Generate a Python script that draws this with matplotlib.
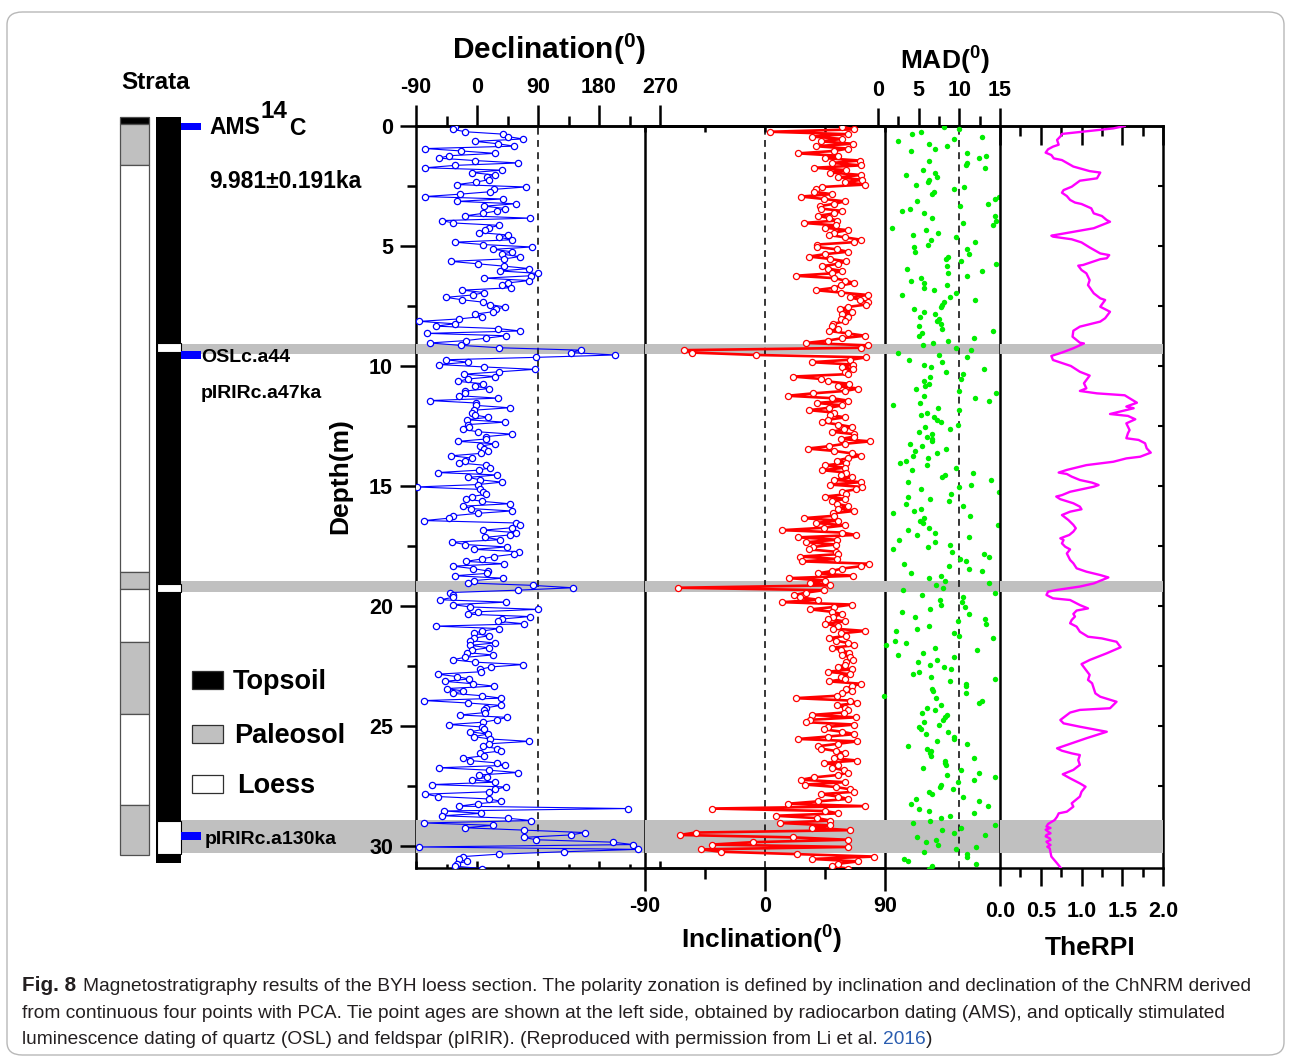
import numpy as np
import matplotlib
matplotlib.use('Agg')
import matplotlib.pyplot as plt
from matplotlib.patches import Rectangle, FancyBboxPatch
from matplotlib.ticker import FormatStrFormatter, NullFormatter

plt.rcParams['font.family'] = ['Liberation Sans', 'DejaVu Sans']
plt.rcParams['font.weight'] = 'bold'
plt.rcParams['mathtext.default'] = 'regular'
plt.rcParams['axes.unicode_minus'] = False

# ---------------------------------------------------------------- data
# ChNRM specimens, taken every 0.1 m from the top of the section
SAMPLE_TOP = 0.04
SAMPLE_STEP = 0.1

DECLINATION = [
    -32, -36, -17, 39, 45, 68, -3, 31, 55, -76,
    -23, 27, -42, -56, -3, 61, -32, -76, 37, -8,
    26, 15, 17, -2, -30, 72, 25, 19, -25, -77,
    38, -29, 57, 11, 42, 29, 9, -17, 78, -52,
    -35, 33, 18, 12, 3, 45, 33, 52, -33, 9,
    81, 24, 52, 37, 63, 40, -39, 1, 40, 77,
    34, 90, 79, 11, 77, 45, 37, 50, -22, 11,
    -6, -46, -22, 9, 19, 41, 28, 23, -3, 7,
    -27, -85, -33, -61, 31, 64, -74, 43, 14, -16,
    -70, -24, 33, 153, 138, 204, 87, -46, -14, -56,
    11, 85, 32, -19, 27, -13, -28, 9, -3, 18,
    -17, -18, -26, 31, -70, -2, -2, 48, -4, -7,
    -3, 16, -15, 41, -13, -12, -20, 1, 52, 14,
    14, -28, 27, 4, 11, 16, 6, -38, -7, -17,
    -26, 13, 19, 3, -58, 30, -13, 4, 37, 1,
    -89, 4, 9, 14, -8, -16, 8, 48, -20, -9,
    51, 1, -36, -41, -78, 57, 63, 52, 9, 57,
    48, 12, 34, -37, -17, 44, -4, 62, 54, 25,
    7, -16, 40, -36, -6, 16, 15, -33, 38, -4,
    -14, 82, 141, 61, -40, -36, -36, -54, 43, -36,
    -10, 90, 2, -14, 78, 37, 31, 70, -61, 33,
    8, -5, 18, -5, -10, 26, -10, 17, -8, -15,
    23, -18, -36, -3, 68, 20, 5, 6, -58, -30,
    -12, -47, -6, 25, -45, -20, -36, 8, 36, -78,
    -14, 35, 14, 10, 12, -25, 44, 30, 9, -41,
    7, 10, -10, 16, -5, 19, 77, 18, 9, 29,
    35, 5, 11, -20, -10, 30, 41, -56, 17, 60,
    3, 15, -8, 27, -66, 43, 26, 18, -76, -57,
    18, 36, 1, -27, 223, -49, 6, -51, 45, 80,
    -78, 24, -18, 70, 159, 138, 69, 87, 200, 230,
    -86, 237, 129, 32, -20, -26, -15, -30, -33, 7,
]

INCLINATION = [
    58, 67, 4, 62, 35, 58, 42, 66, 38, 62,
    52, 25, 55, 45, 71, 50, 72, 37, 61, 49,
    72, 55, 73, 60, 75, 43, 38, 37, 50, 27,
    44, 60, 52, 41, 42, 58, 52, 40, 48, 54,
    29, 53, 45, 62, 52, 48, 60, 72, 67, 39,
    39, 54, 62, 45, 33, 49, 61, 55, 43, 47,
    58, 50, 23, 52, 60, 67, 57, 52, 38, 57,
    77, 64, 71, 77, 76, 62, 56, 65, 58, 62,
    57, 60, 51, 50, 55, 48, 62, 75, 58, 47,
    31, 77, 72, -61, -55, -7, 76, 64, 35, 66,
    58, 66, 60, 62, 21, 42, 47, 63, 55, 70,
    60, 36, 17, 50, 62, 39, 58, 48, 33, 52,
    49, 60, 47, 43, 55, 65, 59, 50, 67, 67,
    57, 79, 60, 48, 32, 52, 65, 72, 62, 54,
    61, 45, 60, 43, 61, 57, 65, 52, 72, 49,
    73, 68, 58, 61, 45, 60, 50, 54, 62, 55,
    67, 51, 52, 29, 55, 38, 60, 44, 13, 58,
    68, 25, 54, 31, 53, 36, 33, 53, 55, 26,
    54, 28, 78, 72, 58, 50, 40, 66, 18, 45,
    34, 49, -65, 44, 31, 22, 26, 40, 13, 65,
    52, 34, 50, 58, 51, 47, 60, 45, 55, 51,
    75, 57, 61, 48, 53, 62, 67, 50, 57, 63,
    58, 64, 66, 61, 60, 55, 65, 47, 64, 57,
    60, 48, 72, 65, 61, 65, 58, 54, 23, 64,
    69, 54, 60, 62, 59, 35, 68, 34, 31, 67,
    47, 44, 58, 67, 47, 25, 69, 55, 40, 42,
    53, 60, 56, 52, 69, 44, 55, 50, 59, 62,
    55, 37, 27, 60, 30, 53, 64, 67, 42, 55,
    62, 40, 17, 75, -40, 45, 55, 8, 39, 49,
    11, 49, 35, 64, -52, -64, 21, 62, -9, -40,
    62, -48, -33, 24, 82, 35, 70, 55, 50, 62,
]

MAD = [
    8.1, 10.0, 5.3, 4.2, 12.8, 9.4, 2.5, 6.3, 8.5, 7.0,
    4.0, 10.9, 13.3, 12.4, 6.3, 11.0, 10.8, 13.2, 5.5, 7.0,
    3.4, 7.3, 6.3, 6.2, 4.7, 10.6, 9.4, 6.9, 6.7, 14.9,
    14.4, 4.8, 13.5, 10.1, 3.9, 3.0, 5.7, 14.4, 6.6, 14.5,
    10.5, 14.1, 1.7, 5.9, 7.4, 4.3, 9.6, 6.5, 11.9, 6.1,
    4.4, 11.0, 4.6, 11.2, 8.6, 8.3, 10.2, 14.5, 8.5, 3.6,
    12.8, 8.6, 10.9, 5.3, 4.1, 5.6, 8.5, 5.6, 6.9, 9.6,
    3.0, 8.9, 11.9, 8.1, 7.9, 7.8, 4.4, 5.6, 7.0, 5.2,
    7.5, 7.2, 7.8, 5.1, 7.9, 14.1, 5.4, 5.1, 11.8, 8.6,
    6.8, 5.5, 9.6, 11.4, 2.5, 7.5, 10.9, 3.8, 7.9, 5.6,
    6.5, 13.0, 8.3, 10.5, 6.4, 10.2, 5.6, 6.3, 5.8, 4.7,
    10.0, 14.5, 5.6, 11.9, 13.7, 5.2, 1.8, 7.4, 10.0, 6.0,
    5.3, 6.9, 7.3, 7.8, 9.8, 5.8, 8.9, 5.0, 6.7, 6.0,
    6.7, 6.6, 3.9, 5.4, 8.3, 4.6, 7.2, 4.3, 6.1, 3.4,
    2.7, 6.0, 9.6, 4.2, 11.7, 8.2,
    7.9, 13.9, 3.7, 11.4, 10.0, 5.3, 14.9, 9.0, 3.7, 6.4,
    8.7, 3.4, 10.5, 5.3, 4.4, 1.8, 11.3, 5.6, 5.2, 5.5,
    14.7, 6.3, 3.7, 7.0, 4.8, 11.2, 2.6, 7.0, 8.9, 6.1,
    1.8, 9.1, 13.0, 13.7, 10.1, 10.8, 3.2, 8.7, 11.2, 12.8,
    4.0, 7.8, 6.3, 8.2, 13.7, 7.1, 8.0, 3.1, 14.4, 5.4,
    10.4, 7.6, 10.3, 7.7, 10.7, 6.4, 3.0, 11.2, 4.6, 13.2,
    9.8, 13.3, 6.3, 4.8, 2.2, 9.3, 10.0, 14.1, 2.1, 3.4,
    1.0, 7.0, 12.2, 5.5, 2.4, 9.4, 7.3, 4.9, 6.4,
    8.1, 9.0, 5.0, 4.3, 6.5, 14.4, 8.8, 10.8, 10.8, 6.6,
    6.8, 10.8, 0.7, 7.1, 12.8, 12.4, 7.7, 6.0, 7.0, 5.4,
    8.5, 8.2, 8.0, 5.7, 7.5, 5.0, 5.3, 8.6, 5.9, 9.4,
    9.3, 7.3, 11.0, 3.7, 6.0, 6.5, 6.4, 6.5, 11.8, 8.2,
    8.2, 8.3, 5.5, 10.2, 12.4, 8.5, 14.4, 11.8, 9.8, 7.7,
    7.6, 9.2, 6.3, 6.6, 10.5, 4.7, 12.4, 4.0, 13.5, 5.0,
    6.3, 11.8, 8.8, 7.7, 6.4, 4.3, 14.4, 10.2, 7.9, 9.4,
    13.2, 4.8, 7.1, 5.9, 7.4, 12.1, 9.6, 5.6, 11.0, 10.9,
    3.2, 3.7, 12.1, 6.6, 6.3,
]

RPI_DEPTH = [
    0.0, 0.1, 0.33, 0.44, 0.58, 0.78, 0.86, 0.97, 1.11, 1.21,
    1.35, 1.42, 1.69, 1.88, 1.94, 2.18, 2.28, 2.53, 2.67, 2.78,
    2.92, 3.08, 3.19, 3.25, 3.43, 3.64, 3.75, 3.92, 3.99, 4.26,
    4.36, 4.57, 4.61, 4.72, 4.85, 5.06, 5.31, 5.38, 5.51, 5.55,
    5.79, 5.82, 6.0, 6.14, 6.42, 6.63, 6.97, 7.18, 7.25, 7.53,
    7.74, 8.01, 8.15, 8.36, 8.53, 8.78, 9.03, 9.06, 9.26, 9.44,
    9.58, 9.75, 10.0, 10.24, 10.4, 10.58, 10.72, 10.93, 11.04, 11.14,
    11.22, 11.53, 11.69, 11.76, 12.0, 12.08, 12.22, 12.39, 12.67, 12.8,
    13.01, 13.08, 13.22, 13.43, 13.61, 13.78, 13.85, 13.99, 14.13, 14.33,
    14.44, 14.5, 14.61, 14.75, 14.86, 14.96, 15.03, 15.24, 15.38, 15.44,
    15.55, 15.72, 15.86, 15.97, 16.07, 16.21, 16.42, 16.62, 16.76, 16.9,
    17.04, 17.18, 17.25, 17.39, 17.53, 17.64, 17.81, 18.08, 18.22, 18.43,
    18.57, 18.71, 18.81, 19.06, 19.19, 19.33, 19.4, 19.54, 19.68, 19.75,
    19.96, 20.1, 20.19, 20.33, 20.44, 20.58, 20.72, 20.86, 21.07, 21.28,
    21.35, 21.49, 21.72, 21.97, 22.25, 22.42, 22.6, 22.87, 23.08, 23.22,
    23.43, 23.64, 23.78, 23.99, 24.26, 24.33, 24.44, 24.75, 24.89, 25.03,
    25.24, 25.51, 25.79, 25.93, 26.03, 26.14, 26.21, 26.42, 26.62, 26.83,
    27.01, 27.18, 27.39, 27.53, 27.74, 27.94, 28.22, 28.36, 28.57, 28.64,
    28.78, 28.92, 29.08, 29.19, 29.25, 29.32, 29.4, 29.47, 29.54, 29.6,
    29.68, 29.75, 29.82, 29.89, 29.96, 30.03, 30.1, 30.44, 30.72, 30.93,
]
RPI = [
    1.53, 1.39, 0.76, 0.74, 0.70, 0.72, 0.65, 0.59, 0.56, 0.63,
    0.66, 0.76, 0.90, 1.10, 1.23, 1.19, 0.98, 0.88, 0.78, 0.76,
    0.82, 0.86, 0.92, 1.00, 1.12, 1.15, 1.25, 1.31, 1.35, 1.15,
    0.98, 0.63, 0.65, 0.88, 1.00, 1.10, 1.23, 1.34, 1.31, 1.23,
    1.02, 0.96, 1.00, 1.06, 1.10, 1.08, 1.15, 1.23, 1.29, 1.23,
    1.35, 1.29, 1.23, 0.98, 0.90, 0.89, 0.98, 1.03, 0.90, 0.76,
    0.63, 0.65, 0.87, 0.98, 1.10, 1.06, 1.03, 1.06, 0.98, 1.19,
    1.53, 1.68, 1.55, 1.64, 1.35, 1.57, 1.66, 1.55, 1.59, 1.57,
    1.55, 1.70, 1.78, 1.80, 1.85, 1.72, 1.55, 1.39, 1.06, 0.82,
    0.72, 0.82, 0.88, 0.98, 1.13, 1.21, 1.15, 0.86, 0.76, 0.69,
    0.74, 0.90, 0.98, 1.00, 0.86, 0.76, 0.84, 0.90, 0.93, 0.90,
    0.85, 0.74, 0.78, 0.76, 0.80, 0.86, 0.82, 0.86, 0.90, 0.94,
    1.06, 1.23, 1.33, 1.15, 0.98, 0.70, 0.59, 0.57, 0.65, 0.86,
    0.98, 1.08, 0.94, 0.90, 0.92, 0.88, 0.86, 0.94, 0.98, 1.08,
    1.25, 1.43, 1.48, 1.31, 1.10, 1.00, 1.04, 1.10, 1.08, 1.13,
    1.15, 1.17, 1.23, 1.43, 1.35, 0.98, 0.86, 0.74, 0.78, 0.98,
    1.31, 1.06, 0.82, 0.70, 0.76, 0.88, 0.98, 0.96, 0.98, 0.90,
    0.77, 0.86, 0.98, 1.05, 1.00, 0.98, 0.88, 0.90, 0.82, 0.72,
    0.70, 0.67, 0.59, 0.57, 0.62, 0.56, 0.59, 0.62, 0.57, 0.56,
    0.61, 0.62, 0.57, 0.59, 0.62, 0.58, 0.61, 0.63, 0.70, 0.75,
]

# strata column: (top, base, unit)
LITHOLOGY = [
    (-0.38, -0.08, 'Topsoil'),
    (-0.08, 1.63, 'Paleosol'),
    (1.63, 18.6, 'Loess'),
    (18.6, 19.3, 'Paleosol'),
    (19.3, 21.5, 'Loess'),
    (21.5, 24.5, 'Paleosol'),
    (24.5, 28.3, 'Loess'),
    (28.3, 30.38, 'Paleosol'),
]
POLARITY_TOP, POLARITY_BASE = -0.38, 30.7
REVERSED_ZONES = [(9.05, 9.42), (19.1, 19.42), (28.95, 30.32)]
EXCURSION_BANDS = [(9.08, 9.5), (18.96, 19.4), (28.9, 30.3)]
TIE_POINT_DEPTHS = [0.02, 9.55, 29.58]

LITH_COLORS = {'Topsoil': 'black', 'Paleosol': '#c0c0c0', 'Loess': 'white'}
BAND_GREY = '#c0c0c0'
LW = 1.8

depth = SAMPLE_TOP + SAMPLE_STEP * np.arange(len(DECLINATION))

# ---------------------------------------------------------------- layout
W, H = 1290, 1058
Y_TOP, Y_BOT = 126, 868
DEPTH_MAX = (Y_BOT - Y_TOP) / 24.0

fig = plt.figure(figsize=(W / 100, H / 100), dpi=100)


def panel(x0, x1):
    ax = fig.add_axes([x0 / W, 1 - Y_BOT / H, (x1 - x0) / W, (Y_BOT - Y_TOP) / H])
    ax.set_facecolor('none')
    ax.set_ylim(DEPTH_MAX, 0)
    for s in ax.spines.values():
        s.set_linewidth(LW)
    return ax


def shade(ax, z=2.6):
    for top, base in EXCURSION_BANDS:
        ax.axhspan(top, base, color=BAND_GREY, lw=0, zorder=z)


def dashed(ax, x):
    ax.axvline(x, color='black', lw=1.1, ls=(0, (4.5, 3.5)), zorder=2.8)


def txt(x, y, s, size, ha='left', va='baseline', **kw):
    kw.setdefault('fontweight', 'bold')
    return fig.text(x / W, 1 - y / H, s, fontsize=size, ha=ha, va=va, **kw)


# grey bands behind the tie-point labels
ax_bg = panel(181, 416)
ax_bg.axis('off')
shade(ax_bg, 0)

# strata and polarity columns
ax_st = panel(119, 201)
ax_st.axis('off')
ax_st.set_xlim(0, 82)
for top, base, unit in LITHOLOGY:
    ax_st.bar(15.25, base - top, bottom=top, width=29.5, color=LITH_COLORS[unit],
              edgecolor='#505050', linewidth=0.9, clip_on=False)
ax_st.bar(49.5, POLARITY_BASE - POLARITY_TOP, bottom=POLARITY_TOP, width=25,
          color='black', linewidth=0, clip_on=False)
for top, base in REVERSED_ZONES:
    ax_st.bar(49.5, base - top, bottom=top, width=24, color='white',
              edgecolor='black', linewidth=0.8, clip_on=False)
for d in TIE_POINT_DEPTHS:
    ax_st.bar(72, 0.32, bottom=d - 0.16, width=20, color='#0000ff',
              linewidth=0, clip_on=False)

# declination
ax_dec = panel(416, 1000)
ax_dec.set_xlim(-90, -90 + (1000 - 416) * 180 / 122)
ax_dec.spines['right'].set_visible(False)
shade(ax_dec)
dashed(ax_dec, 90)
ax_dec.plot(DECLINATION, depth, color='#0000ff', lw=0.8, marker='o', ms=4.5,
            mfc='white', mec='#0000ff', mew=0.9, zorder=3)
ax_dec.set_yticks(range(0, 31, 5))
ax_dec.set_yticks(np.arange(2.5, 31, 5), minor=True)
ax_dec.tick_params(axis='y', which='major', direction='out', length=11.5,
                   width=LW, labelsize=15.5, pad=5)
ax_dec.tick_params(axis='y', which='minor', direction='out', length=6.5, width=LW)
ax_dec.set_xticks([-90, 0, 90, 180, 270])
ax_dec.set_xticks([-45, 45, 135, 225], minor=True)
ax_dec.tick_params(axis='x', which='major', direction='in', length=5, width=LW,
                   labelbottom=False)
ax_dec.tick_params(axis='x', which='minor', direction='in', length=3, width=LW)
sec = ax_dec.secondary_xaxis('top')
sec.set_xticks([-90, 0, 90, 180, 270])
sec.set_xticks([-45, 45, 135, 225], minor=True)
sec.tick_params(which='major', direction='out', length=15, width=LW,
                labelsize=15.5, pad=5)
sec.tick_params(which='minor', direction='out', length=7.5, width=LW)
sec.spines['top'].set_linewidth(LW)
fig.text(340 / W, 1 - 476 / H, 'Depth(m)', rotation=90, ha='center',
         va='center', fontsize=19, fontweight='bold')

# inclination
ax_inc = panel(645, 885)
ax_inc.set_xlim(-90, 90)
shade(ax_inc)
dashed(ax_inc, 0)
ax_inc.plot(INCLINATION, depth, color='#ff0000', lw=1.9, marker='o', ms=4.4,
            mfc='white', mec='#ff0000', mew=0.9, zorder=3)
ax_inc.set_yticks([])
ax_inc.set_xticks([-90, 0, 90])
ax_inc.set_xticks([-45, 45], minor=True)
ax_inc.tick_params(axis='x', which='major', direction='out', length=16.5,
                   width=LW, labelsize=15.5, pad=4)
ax_inc.tick_params(axis='x', which='minor', direction='out', length=8, width=LW)
sec = ax_inc.secondary_xaxis('top')
sec.set_xticks([-90, -45, 0, 45, 90])
sec.xaxis.set_major_formatter(NullFormatter())
sec.tick_params(direction='in', length=4, width=LW)
sec.spines['top'].set_linewidth(LW)

# MAD
ax_mad = panel(878, 1000)
ax_mad.set_xlim(0, 15)
for side in ('left', 'right', 'bottom'):
    ax_mad.spines[side].set_visible(False)
shade(ax_mad)
dashed(ax_mad, 10)
ax_mad.plot(MAD, depth, ls='none', marker='o', ms=3.9, color='#00ee00',
            mec='none', zorder=3)
ax_mad.set_yticks([])
ax_mad.xaxis.tick_top()
ax_mad.set_xticks([0, 5, 10, 15])
ax_mad.set_xticks([2.5, 7.5, 12.5], minor=True)
ax_mad.tick_params(axis='x', which='major', direction='out', length=13,
                   width=LW, labelsize=15.5, pad=5)
ax_mad.tick_params(axis='x', which='minor', direction='out', length=7, width=LW)

# relative palaeointensity
ax_rpi = panel(1000, 1163)
ax_rpi.set_xlim(0, 2.0)
shade(ax_rpi)
ax_rpi.plot(RPI, RPI_DEPTH, color='#ff00ff', lw=1.7, zorder=3)
ax_rpi.yaxis.tick_right()
ax_rpi.set_yticks(np.arange(2.5, 31, 2.5))
ax_rpi.tick_params(axis='y', direction='in', length=3.5, width=1.5,
                   labelright=False)
ax_rpi.set_xticks([0, 0.5, 1.0, 1.5, 2.0])
ax_rpi.set_xticks([0.25, 0.75, 1.25, 1.75], minor=True)
ax_rpi.xaxis.set_major_formatter(FormatStrFormatter('%.1f'))
ax_rpi.tick_params(axis='x', which='major', direction='out', length=13,
                   width=LW, labelsize=15.5, pad=11)
ax_rpi.tick_params(axis='x', which='minor', direction='out', length=6.5, width=LW)
sec = ax_rpi.secondary_xaxis('top')
sec.set_xticks([0, 0.5, 1.0, 1.5, 2.0])
sec.set_xticks([0.25, 0.75, 1.25, 1.75], minor=True)
sec.xaxis.set_major_formatter(NullFormatter())
sec.tick_params(which='major', direction='in', length=14, width=LW)
sec.tick_params(which='minor', direction='in', length=7, width=LW)
sec.spines['top'].set_linewidth(LW)

# ---------------------------------------------------------------- titles
txt(156, 89, 'Strata', 17.5, ha='center')
txt(549, 59, 'Declination($^{0}$)', 21.5, ha='center')
txt(945, 70, 'MAD($^{0}$)', 19, ha='center')
txt(762, 949, 'Inclination($^{0}$)', 19, ha='center')
txt(1090, 955, 'TheRPI', 19, ha='center')

# tie-point ages
txt(209, 134, 'AMS', 16.5)
txt(261, 118, '14', 17.5)
txt(289, 135, 'C', 16.5)
txt(209, 188, '9.981±0.191ka', 16.5)
txt(201, 362, 'OSLc.a44', 14)
txt(201, 398, 'pIRIRc.a47ka', 14)
txt(205, 844, 'pIRIRc.a130ka', 14)

# legend of the strata column
for y, unit, x in [(671, 'Topsoil', 233), (725, 'Paleosol', 234), (775, 'Loess', 237)]:
    fig.add_artist(Rectangle((192 / W, 1 - (y + 18) / H), 31 / W, 18 / H,
                             transform=fig.transFigure, facecolor=LITH_COLORS[unit],
                             edgecolor='#303030', linewidth=0.9))
    txt(x, y + 18, unit, 19.5)

# ---------------------------------------------------------------- caption
renderer = fig.canvas.get_renderer()
CAP = '#231f20'
body1 = ('Magnetostratigraphy results of the BYH loess section. The polarity zonation '
         'is defined by inclination and declination of the ChNRM derived')
line2 = ('from continuous four points with PCA. Tie point ages are shown at the left side, '
         'obtained by radiocarbon dating (AMS), and optically stimulated')
line3 = ('luminescence dating of quartz (OSL) and feldspar (pIRIR). '
         '(Reproduced with permission from Li et al. ')

probe = txt(0, 0, body1, 12, fontweight='normal')
cap_size = 12 * (1253 - 83) / probe.get_window_extent(renderer).width
probe.remove()

txt(22, 991, 'Fig. 8', cap_size * 1.08, color=CAP)
txt(83, 991, body1, cap_size, fontweight='normal', color=CAP)
txt(22, 1018, line2, cap_size, fontweight='normal', color=CAP)
t3 = txt(22, 1044, line3, cap_size, fontweight='normal', color=CAP)
x3 = 22 + t3.get_window_extent(renderer).width
t4 = txt(x3, 1044, '2016', cap_size, fontweight='normal', color='#2a5db0')
x4 = x3 + t4.get_window_extent(renderer).width
txt(x4, 1044, ')', cap_size, fontweight='normal', color=CAP)

fig.add_artist(FancyBboxPatch((7 / W, 1 - 1055 / H), 1277 / W, 1043 / H,
                              boxstyle='round,pad=0,rounding_size=0.012',
                              transform=fig.transFigure, facecolor='none',
                              edgecolor='#b8b8b8', linewidth=1.0))

fig.savefig('out.png', dpi=100)
